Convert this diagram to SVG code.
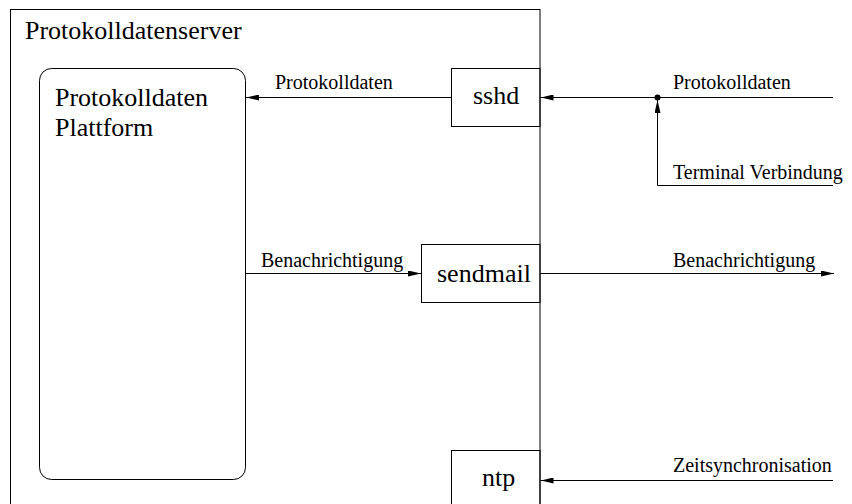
<svg xmlns="http://www.w3.org/2000/svg" width="852" height="504" viewBox="0 0 852 504">
  <style>
    .box { fill: none; stroke: #000; stroke-width: 1; }
    .ln { fill: none; stroke: #000; stroke-width: 1; }
    .big { font-size: 26px; fill: #000; }
    .lbl { font-size: 20px; fill: #000; }
  </style>
  <defs>
    <marker id="arr" viewBox="0 0 13 6" refX="13" refY="3" markerWidth="13" markerHeight="6" markerUnits="userSpaceOnUse" orient="auto">
      <path d="M0,0 L13,3 L0,6 z" fill="#000"/>
    </marker>
  </defs>
  <rect width="852" height="504" fill="#fff"/>

  <g font-family="Liberation Serif, DejaVu Serif, serif">
  <g id="server">
    <rect class="box" x="10.5" y="9.5" width="529.5" height="530"/>
    <text class="big" x="25" y="39">Protokolldatenserver</text>
  </g>

  <g id="plattform">
    <rect class="box" x="39.5" y="68.5" width="206" height="411" rx="12" ry="12"/>
    <text class="big" x="55" y="106">Protokolldaten</text>
    <text class="big" x="55" y="136">Plattform</text>
  </g>

  <g id="sshd">
    <rect class="box" x="451.5" y="68.5" width="88.5" height="58"/>
    <text class="big" x="473" y="104">sshd</text>
  </g>

  <g id="sendmail">
    <rect class="box" x="421.5" y="244.5" width="118.5" height="58"/>
    <text class="big" x="437" y="282">sendmail</text>
  </g>

  <g id="ntp">
    <rect class="box" x="451.5" y="450.5" width="88.5" height="70"/>
    <text class="big" x="482" y="486">ntp</text>
  </g>

  <g id="connectors">
    <path class="ln" d="M451.5,97.5 L246,97.5" marker-end="url(#arr)"/>
    <text class="lbl" x="275" y="89">Protokolldaten</text>

    <path class="ln" d="M833,97.5 L540.5,97.5" marker-end="url(#arr)"/>
    <text class="lbl" x="673" y="89">Protokolldaten</text>
    <circle cx="657.5" cy="97.5" r="3" fill="#000"/>

    <path class="ln" d="M833,185.5 L657.5,185.5 L657.5,100" marker-end="url(#arr)"/>
    <text class="lbl" x="673" y="179">Terminal Verbindung</text>

    <path class="ln" d="M246,273.5 L421,273.5" marker-end="url(#arr)"/>
    <text class="lbl" x="261" y="267">Benachrichtigung</text>

    <path class="ln" d="M540,273.5 L834,273.5" marker-end="url(#arr)"/>
    <text class="lbl" x="673" y="267">Benachrichtigung</text>

    <path class="ln" d="M833,480.5 L540.5,480.5" marker-end="url(#arr)"/>
    <text class="lbl" x="673" y="472">Zeitsynchronisation</text>
  </g>
  </g>
</svg>
